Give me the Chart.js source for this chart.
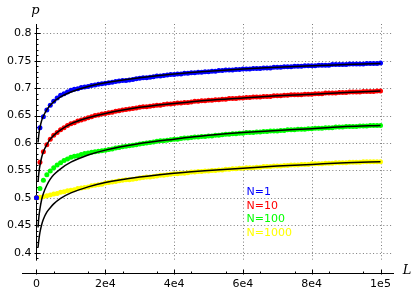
<!DOCTYPE html>
<html>
<head>
<meta charset="utf-8">
<script src="https://cdn.jsdelivr.net/npm/chart.js@4.4.1/dist/chart.umd.min.js"></script>
<style>
html, body { margin: 0; padding: 0; background: #fff; }
#wrap { width: 419px; height: 295px; }
</style>
</head>
<body>
<div id="wrap"><canvas id="pchart"></canvas></div>
<script>
// simulated points, one every 1000 in L (0 .. 1e5)
const lStep = 1000;
const seriesNames = ['N=1', 'N=10', 'N=100', 'N=1000'];
const seriesColors = ['#0000ff', '#ff0000', '#00ff00', '#ffff00'];

const pN1 = [0.500,0.628,0.648,0.660,0.669,0.676,0.682,0.687,0.690,0.693,
  0.696,0.698,0.699,0.701,0.702,0.703,0.705,0.706,0.707,0.708,
  0.709,0.710,0.711,0.712,0.713,0.714,0.714,0.715,0.716,0.717,
  0.718,0.719,0.719,0.720,0.721,0.722,0.722,0.723,0.724,0.725,
  0.725,0.726,0.726,0.727,0.727,0.728,0.728,0.729,0.729,0.730,
  0.730,0.731,0.731,0.732,0.732,0.733,0.733,0.733,0.734,0.734,
  0.735,0.735,0.735,0.736,0.736,0.736,0.737,0.737,0.737,0.738,
  0.738,0.738,0.739,0.739,0.739,0.740,0.740,0.740,0.741,0.741,
  0.741,0.741,0.742,0.742,0.742,0.742,0.743,0.743,0.743,0.743,
  0.743,0.744,0.744,0.744,0.744,0.744,0.745,0.745,0.745,0.745,
  0.746];

const pN10 = [0.500,0.565,0.584,0.597,0.607,0.614,0.619,0.624,0.628,0.632,
  0.635,0.637,0.640,0.642,0.644,0.646,0.648,0.650,0.651,0.653,
  0.654,0.655,0.656,0.658,0.659,0.660,0.661,0.662,0.663,0.664,
  0.665,0.666,0.666,0.667,0.668,0.669,0.669,0.670,0.671,0.671,
  0.672,0.673,0.673,0.674,0.674,0.675,0.676,0.676,0.677,0.677,
  0.678,0.678,0.679,0.679,0.680,0.680,0.681,0.681,0.681,0.682,
  0.682,0.683,0.683,0.684,0.684,0.684,0.685,0.685,0.685,0.686,
  0.686,0.686,0.687,0.687,0.688,0.688,0.688,0.688,0.689,0.689,
  0.689,0.690,0.690,0.690,0.691,0.691,0.691,0.691,0.692,0.692,
  0.692,0.693,0.693,0.693,0.693,0.694,0.694,0.694,0.694,0.695,
  0.695];

const pN100 = [0.500,0.517,0.532,0.542,0.549,0.555,0.560,0.564,0.568,0.571,
  0.574,0.576,0.577,0.579,0.581,0.582,0.583,0.584,0.585,0.586,
  0.587,0.588,0.589,0.591,0.592,0.593,0.594,0.595,0.596,0.597,
  0.598,0.599,0.600,0.601,0.602,0.603,0.604,0.604,0.605,0.606,
  0.607,0.607,0.608,0.609,0.609,0.610,0.611,0.611,0.612,0.612,
  0.613,0.613,0.614,0.614,0.615,0.616,0.616,0.617,0.617,0.618,
  0.618,0.619,0.619,0.619,0.620,0.620,0.621,0.621,0.622,0.622,
  0.622,0.623,0.623,0.624,0.624,0.624,0.625,0.625,0.625,0.626,
  0.626,0.627,0.627,0.627,0.628,0.628,0.628,0.629,0.629,0.629,
  0.630,0.630,0.630,0.630,0.631,0.631,0.631,0.632,0.632,0.632,
  0.632];

const pN1000 = [0.500,0.501,0.502,0.504,0.505,0.507,0.508,0.510,0.511,0.513,
  0.514,0.515,0.517,0.518,0.519,0.520,0.522,0.523,0.524,0.525,
  0.527,0.528,0.529,0.530,0.531,0.532,0.533,0.533,0.534,0.535,
  0.536,0.537,0.538,0.538,0.539,0.540,0.541,0.541,0.542,0.543,
  0.544,0.544,0.545,0.545,0.546,0.547,0.547,0.548,0.548,0.549,
  0.549,0.550,0.550,0.551,0.551,0.552,0.552,0.553,0.553,0.554,
  0.554,0.555,0.555,0.555,0.556,0.556,0.557,0.557,0.557,0.558,
  0.558,0.558,0.559,0.559,0.560,0.560,0.560,0.561,0.561,0.561,
  0.562,0.562,0.562,0.562,0.563,0.563,0.563,0.564,0.564,0.564,
  0.564,0.565,0.565,0.565,0.565,0.566,0.566,0.566,0.566,0.566,
  0.566];

const fitL = [450,600,800,1000,1500,2000,3000,4000,5000,7000,10000,15000,20000,30000,40000,50000,60000,70000,80000,90000,100000];
const fitN1 = [0.601,0.611,0.621,0.628,0.641,0.649,0.661,0.669,0.675,0.684,0.693,0.703,0.710,0.719,0.726,0.731,0.735,0.738,0.741,0.743,0.745];
const fitN10 = [0.529,0.540,0.551,0.559,0.574,0.584,0.597,0.607,0.614,0.624,0.635,0.646,0.654,0.665,0.672,0.678,0.682,0.686,0.689,0.692,0.695];
const fitN100 = [0.446,0.459,0.471,0.480,0.497,0.508,0.523,0.534,0.542,0.553,0.565,0.578,0.587,0.599,0.607,0.614,0.619,0.623,0.626,0.630,0.632];
const fitN1000 = [0.410,0.419,0.429,0.437,0.451,0.461,0.474,0.482,0.489,0.499,0.509,0.520,0.528,0.538,0.545,0.550,0.554,0.558,0.561,0.564,0.566];

const xTicks = [0, 20000, 40000, 60000, 80000, 100000];
const xTickLabels = ['0', '2e4', '4e4', '6e4', '8e4', '1e5'];
const yTicks = [0.4, 0.45, 0.5, 0.55, 0.6, 0.65, 0.7, 0.75, 0.8];
const yTickLabels = ['0.4', '0.45', '0.5', '0.55', '0.6', '0.65', '0.7', '0.75', '0.8'];

const pointSets = [pN1, pN10, pN100, pN1000];
const fitSets = [fitN1, fitN10, fitN100, fitN1000];

// axis extents (sage style: axes a bit longer than the data)
const xAxisFrom = -4215, xAxisTo = 103924;
const yAxisFrom = 0.3855, yAxisTo = 0.817, xAxisAt = 0.3639;
const hGridTo = 103500;

function toXY(xs, ys) {
  return ys.map((v, i) => ({ x: xs[i], y: v }));
}

const datasets = [];
fitSets.forEach((f, i) => {
  datasets.push({
    label: 'fit ' + seriesNames[i],
    data: toXY(fitL, f),
    showLine: true,
    borderColor: '#000',
    borderWidth: 1.5,
    pointRadius: 0,
    cubicInterpolationMode: 'monotone',
    order: 0
  });
});
pointSets.forEach((p, i) => {
  datasets.push({
    label: seriesNames[i],
    data: p.map((v, k) => ({ x: k * lStep, y: v })),
    showLine: false,
    backgroundColor: seriesColors[i],
    borderWidth: 0,
    pointRadius: 2.5,
    order: i + 1
  });
});

function seg(ctx, x1, y1, x2, y2) {
  ctx.beginPath();
  ctx.moveTo(x1, y1);
  ctx.lineTo(x2, y2);
  ctx.stroke();
}

const sageAxes = {
  id: 'sageAxes',
  beforeDatasetsDraw(chart) {
    const { ctx, scales: { x, y } } = chart;
    ctx.save();
    // dotted grid
    ctx.strokeStyle = 'rgba(80,80,80,0.75)';
    ctx.lineWidth = 1;
    ctx.setLineDash([1, 2.4]);
    const gl = x.getPixelForValue(0), gr = x.getPixelForValue(hGridTo);
    yTicks.forEach(v => {
      const py = Math.round(y.getPixelForValue(v)) + 0.5;
      seg(ctx, gl, py, gr, py);
    });
    const gt = y.getPixelForValue(yAxisTo), gb = y.getPixelForValue(yAxisFrom);
    xTicks.forEach(v => {
      if (v === 0) return;
      const px = Math.round(x.getPixelForValue(v)) + 0.5;
      seg(ctx, px, gt, px, gb);
    });
    ctx.setLineDash([]);
    ctx.strokeStyle = '#000';
    // y axis
    const ax = Math.round(x.getPixelForValue(0)) + 0.5;
    seg(ctx, ax, y.getPixelForValue(yAxisTo), ax, y.getPixelForValue(yAxisFrom));
    for (let v = 0.39; v <= 0.8101; v += 0.01) {
      const py = Math.round(y.getPixelForValue(v)) + 0.5;
      seg(ctx, ax, py, ax + 2, py);
    }
    yTicks.forEach(v => {
      const py = Math.round(y.getPixelForValue(v)) + 0.5;
      seg(ctx, ax - 2, py, ax + 4, py);
    });
    // x axis
    const ay = Math.round(y.getPixelForValue(xAxisAt)) + 0.5;
    seg(ctx, x.getPixelForValue(xAxisFrom), ay, x.getPixelForValue(xAxisTo), ay);
    for (let v = 5000; v < 100000; v += 10000) {
      const px = Math.round(x.getPixelForValue(v)) + 0.5;
      seg(ctx, px, ay, px, ay - 2);
    }
    xTicks.forEach(v => {
      const px = Math.round(x.getPixelForValue(v)) + 0.5;
      seg(ctx, px, ay + 1, px, ay - 4);
    });
    ctx.restore();
  },
  afterDatasetsDraw(chart) {
    const { ctx, scales: { x, y } } = chart;
    const ax = Math.round(x.getPixelForValue(0)) + 0.5;
    const ay = Math.round(y.getPixelForValue(xAxisAt)) + 0.5;
    ctx.save();
    // tick labels
    ctx.fillStyle = '#000';
    ctx.font = '11px "DejaVu Sans"';
    ctx.textAlign = 'right';
    ctx.textBaseline = 'middle';
    yTicks.forEach((v, i) => ctx.fillText(yTickLabels[i], ax - 5, y.getPixelForValue(v)));
    ctx.textAlign = 'center';
    ctx.textBaseline = 'top';
    xTicks.forEach((v, i) => ctx.fillText(xTickLabels[i], x.getPixelForValue(v), ay + 5));
    // axis names
    ctx.font = 'italic 13px "DejaVu Serif"';
    ctx.fillText('p', ax - 1, 4);
    ctx.textBaseline = 'middle';
    ctx.fillText('L', 407, ay - 3);
    // legend
    ctx.font = '11px "DejaVu Sans"';
    ctx.textAlign = 'left';
    seriesNames.forEach((n, i) => {
      ctx.fillStyle = seriesColors[i];
      ctx.fillText(n, 246.5, 192.5 + i * 13.4);
    });
    ctx.restore();
  }
};

new Chart(document.getElementById('pchart'), {
  type: 'scatter',
  data: { datasets: datasets },
  options: {
    responsive: true,
    maintainAspectRatio: false,
    animation: false,
    layout: { padding: { left: 22, right: 25, top: 24, bottom: 22.5 } },
    plugins: { legend: { display: false }, tooltip: { enabled: false } },
    scales: {
      x: { type: 'linear', min: xAxisFrom, max: xAxisTo, display: false },
      y: { type: 'linear', min: xAxisAt, max: yAxisTo, display: false }
    }
  },
  plugins: [sageAxes]
});
</script>
</body>
</html>
